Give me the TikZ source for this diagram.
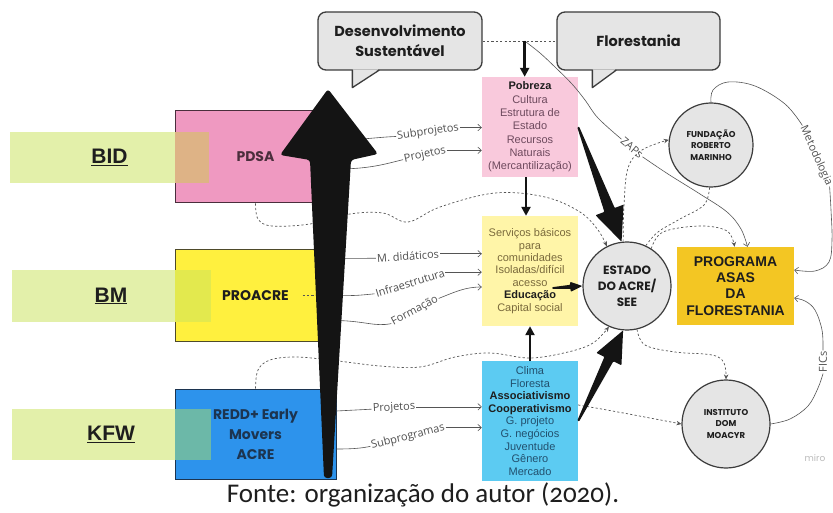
\documentclass[tikz,border=0pt]{standalone}
\usepackage{fontspec}
\setmainfont{Liberation Sans}
\newfontfamily\popf{Poppins}
\newfontfamily\opnf{Open Sans}
\newfontfamily\calf[Numbers=OldStyle]{Carlito}
\usetikzlibrary{arrows.meta,calc}
\definecolor{cgray}{HTML}{E5E5E5}
\definecolor{cdark}{HTML}{3C3C3C}
\definecolor{ctext}{HTML}{1E1E1E}
\definecolor{cpink}{HTML}{F9C9DC}
\definecolor{cpobtxt}{HTML}{6E4A5E}
\definecolor{cyel}{HTML}{FFF5A8}
\definecolor{cservtxt}{HTML}{7A6A3C}
\definecolor{cblue}{HTML}{5CCBF2}
\definecolor{cclimatxt}{HTML}{22506E}
\definecolor{cgold}{HTML}{F3C623}
\definecolor{cpdsa}{HTML}{EF99C1}
\definecolor{cpdsab}{HTML}{4A2E3C}
\definecolor{cproacre}{HTML}{FFF03E}
\definecolor{cproacreb}{HTML}{4E4A2A}
\definecolor{credd}{HTML}{2D93EC}
\definecolor{creddb}{HTML}{1C3450}
\definecolor{cgreen}{HTML}{E3F0AA}
\definecolor{covbid}{HTML}{DEB386}
\definecolor{covbm}{HTML}{E3E94E}
\definecolor{covkfw}{HTML}{6CB8A8}
\definecolor{cline}{HTML}{555555}
\definecolor{clbl}{HTML}{505050}
\definecolor{cmiro}{HTML}{BBBBBB}
\definecolor{cblk}{HTML}{141414}
% tapered fat arrow: tail, tip, head length, head half width, shaft half width, tail half width
\newcommand{\fatarr}[6]{%
  \coordinate (fah) at ($(#2)!#3!(#1)$);
  \fill[cblk, rounded corners=0.8pt] ($(#1)!#6!90:(#2)$) -- ($(fah)!#5!-90:(#1)$) -- ($(fah)!#4!-90:(#1)$) -- (#2) -- ($(fah)!#4!90:(#1)$) -- ($(fah)!#5!90:(#1)$) -- ($(#1)!#6!-90:(#2)$) -- cycle;}
\begin{document}
\begin{tikzpicture}[x=1pt,y=-1pt,
  box/.style={rectangle, inner sep=0pt, align=center},
  leftbox/.style={box, line width=1pt, minimum width=161pt, font=\popf\bfseries\fontsize{14}{20}\selectfont},
  greenbox/.style={box, fill=cgreen, minimum width=199pt, minimum height=51pt, font=\bfseries\fontsize{21}{24}\selectfont, text=ctext},
  callbox/.style={draw=cdark, fill=cgray, line width=1.3pt, rounded corners=8pt, minimum height=58pt, align=center, font=\popf\bfseries\fontsize{14.5}{20}\selectfont, text=ctext},
  circ/.style={circle, draw=cdark, fill=cgray, line width=1.2pt, align=center, text=ctext, inner sep=0pt},
  lbl/.style={font=\opnf\fontsize{11}{12}\selectfont, text=clbl, inner sep=1pt},
  conn/.style={draw=cline, line width=0.6pt},
  carr/.style={conn, -{Straight Barb[length=3.5pt,width=6.5pt]}},
  dconn/.style={draw=cline, line width=0.7pt, dash pattern=on 2.2pt off 2.2pt},
  darr/.style={dconn, -{Stealth[length=5pt,width=4.5pt]}},
  fatline/.style={draw=cblk, line width=2.4pt, -{Triangle[length=9pt,width=9pt]}}
]
\fill[white] (0,0) rectangle (833,513);
\useasboundingbox (0,0) rectangle (833,513);

% left programme boxes
\node[leftbox, fill=cpdsa, draw=cpdsab, minimum height=92pt, text=cpdsab] (pdsa) at (255.5,157) {PDSA};
\node[leftbox, fill=cproacre, draw=cproacreb, minimum height=91pt, text=ctext] (proacre) at (255.5,295.5) {PROACRE};
\node[leftbox, fill=credd, draw=creddb, minimum height=90pt, text=creddb] (redd) at (255.5,434) {REDD+ Early\\Movers\\ACRE};

% funders
\node[greenbox] (bid) at (109.5,157.5) {\underline{BID}};
\node[greenbox] (bm) at (111,296) {\underline{BM}};
\node[greenbox] (kfw) at (111,434.5) {\underline{KFW}};
\fill[covbid] (pdsa.west |- bid.north) rectangle (bid.south east);
\fill[covbm] (proacre.west |- bm.north) rectangle (bm.south east);
\fill[covkfw] (redd.west |- kfw.north) rectangle (kfw.south east);

% callouts
\node[callbox, minimum width=164pt] (dev) at (400,41) {Desenvolvimento\\Sustentável};
\node[callbox, minimum width=163pt] (flo) at (638.5,41) {Florestania};
\fill[cgray] ([xshift=35.6pt,yshift=1.2pt]dev.south west) -- ([xshift=35pt,yshift=-17pt]dev.south west) -- ([xshift=61pt,yshift=1.2pt]dev.south west) -- cycle;
\draw[cdark, line width=1.3pt, line join=round] ([xshift=35pt,yshift=0.6pt]dev.south west) -- ([xshift=35pt,yshift=-17pt]dev.south west) -- ([xshift=62pt,yshift=0.6pt]dev.south west);
\fill[cgray] ([xshift=36.6pt,yshift=1.2pt]flo.south west) -- ([xshift=36pt,yshift=-17pt]flo.south west) -- ([xshift=59pt,yshift=1.2pt]flo.south west) -- cycle;
\draw[cdark, line width=1.3pt, line join=round] ([xshift=36pt,yshift=0.6pt]flo.south west) -- ([xshift=36pt,yshift=-17pt]flo.south west) -- ([xshift=60pt,yshift=0.6pt]flo.south west);

% central boxes
\node[box, fill=cpink, minimum width=96pt, minimum height=100pt, text=cpobtxt, font=\fontsize{11}{13.3}\selectfont] (pob) at (530,127)
  {{\color{ctext}\bfseries Pobreza}\\Cultura\\Estrutura de\\Estado\\Recursos\\Naturais\\(Mercantilização)};
\node[box, fill=cyel, minimum width=96pt, minimum height=110pt, text=cservtxt, font=\fontsize{11}{12.4}\selectfont] (serv) at (530,271)
  {Serviços básicos\\para\\comunidades\\Isoladas/difícil\\acesso\\{\color{ctext}\bfseries Educação}\\Capital social};
\node[box, fill=cblue, minimum width=96pt, minimum height=120pt, text=cclimatxt, font=\fontsize{11}{12.6}\selectfont] (clima) at (530,421)
  {Clima\\Floresta\\{\color{ctext}\bfseries Associativismo}\\{\color{ctext}\bfseries Cooperativismo}\\G. projeto\\G. negócios\\Juventude\\Gênero\\Mercado};

% circles and programme
\node[circ, minimum size=88pt, font=\popf\bfseries\fontsize{12}{16}\selectfont] (estado) at (627,286) {ESTADO\\DO ACRE/\\SEE};
\node[circ, minimum size=84pt, font=\popf\bfseries\fontsize{8.5}{11.5}\selectfont] (fund) at (711,145) {FUNDAÇÃO\\ROBERTO\\MARINHO};
\node[circ, minimum size=88pt, font=\popf\bfseries\fontsize{8.5}{11.5}\selectfont] (inst) at (726,424) {INSTITUTO\\DOM\\MOACYR};
\node[box, fill=cgold, minimum width=117pt, minimum height=78pt, font=\bfseries\fontsize{14}{16.2}\selectfont, text=ctext] (prog) at (735.5,286) {PROGRAMA\\ASAS\\DA\\FLORESTANIA};

% dashed connectors
\coordinate (j) at ($(dev.east)!0.57!(flo.west)$);
\draw[dconn] (dev.east) -- (flo.west);
\draw[dconn] ([xshift=-34pt]proacre.east) -- (proacre.east);
\draw[darr] plot[smooth, tension=0.6] coordinates {(pdsa.south) (258,219) (272,226) (310,224) (350,214) (383,213) (408,222) (440,207) (495,193) (545,197) (580,212) (598,230) (estado.117)};
\draw[darr] plot[smooth, tension=0.6] coordinates {(redd.north) (258,370) (270,360) (295,357) (330,360) (380,366) (420,367) (455,357) (490,353) (530,358) (568,352) (593,343) (estado.246)};
\draw[darr] plot[smooth, tension=0.6] coordinates {(estado.283) (645,345) (675,352) (712,355) (724,363) (inst.north)};
\draw[darr] plot[smooth, tension=0.6] coordinates {([yshift=16pt]clima.east) (607,410) (650,418) (inst.west)};
\draw[darr] plot[smooth, tension=0.6] coordinates {(estado.95) (624,205) (628,168) (642,150) (fund.173)};
\draw[dconn] plot[smooth, tension=0.6] coordinates {(fund.268) (704,205) (680,219) (658,232) (estado.65)};
\draw[darr] plot[smooth, tension=0.6] coordinates {(estado.57) (663,232) (700,226) (727,231) ([xshift=-1pt]prog.north)};

% labelled thin connectors
\node[lbl, rotate=8] (lsub) at (428,132) {Subprojetos};
\draw[conn] ([yshift=17pt]pdsa.east) .. controls (360,140) and (380,137) .. (lsub.west);
\draw[carr] (lsub.east) -- (lsub.east -| pob.west);
\node[lbl, rotate=12] (lproj) at (425,155) {Projetos};
\draw[conn] ([yshift=-12pt]pdsa.east) .. controls (370,169) and (385,164) .. (lproj.west);
\draw[carr] (lproj.east) -- (lproj.east -| pob.west);
\node[lbl, rotate=4] (lmd) at (408,256) {M. didáticos};
\draw[conn] ([yshift=37pt]proacre.east) -- (lmd.west);
\draw[carr] (lmd.east) -- (lmd.east -| serv.west);
\node[lbl, rotate=17] (linf) at (410,283) {Infraestrutura};
\draw[conn] (proacre.east) .. controls (355,296) and (362,295) .. (linf.west);
\draw[carr] (linf.east) -- (linf.east -| serv.west);
\node[lbl, rotate=28] (lfor) at (415,311) {Formação};
\draw[conn] ([yshift=-25pt]proacre.east) .. controls (365,321) and (375,327) .. (lfor.west);
\draw[carr] (lfor.east) .. controls (455,292) and (465,287) .. ([yshift=-16pt]serv.west);
\node[lbl, rotate=3] (lkp) at (394,408) {Projetos};
\draw[conn] ([yshift=23pt]redd.east) -- (lkp.west);
\draw[carr] (lkp.east) -- (lkp.east -| clima.west);
\node[lbl, rotate=14] (lsp) at (408,437) {Subprogramas};
\draw[conn] ([yshift=-15pt]redd.east) .. controls (355,449) and (362,448) .. (lsp.west);
\draw[carr] (lsp.east) -- (lsp.east -| clima.west);

\node[lbl, rotate=-40] (lzap) at (632,148) {ZAPs};
\draw[conn] plot[smooth, tension=0.6] coordinates {(j) (540,53) (556,68) (572,84) (585,100) (598,118) (lzap.west)};
\draw[carr] plot[smooth, tension=0.6] coordinates {(lzap.east) (668,174) (700,194) (727,212) (741,229) ([xshift=12pt]prog.north)};
\node[lbl, rotate=-66] (lmet) at (816,156) {Metodologia};
\draw[conn] plot[smooth, tension=0.6] coordinates {(fund.north) (713,90) (728,82) (755,86) (785,104) (lmet.west)};
\draw[carr] plot[smooth, tension=0.6] coordinates {(lmet.east) (831,210) (832,240) (829,262) (815,271) ([yshift=16pt]prog.east)};
\node[lbl, rotate=90] (lfic) at (823,362) {FICs};
\draw[conn] plot[smooth, tension=0.6] coordinates {(inst.east) (790,419) (808,406) (818,388) (lfic.west)};
\draw[carr] plot[smooth, tension=0.6] coordinates {(lfic.east) (822,330) (815,310) (805,301) ([yshift=-12pt]prog.east)};

% thick black arrows
\draw[fatline] (j) -- (j |- pob.north);
\draw[fatline] ([xshift=-4pt]pob.south) -- ([xshift=-4pt]serv.north);
\draw[fatline] (clima.north) -- (serv.south);
\fatarr{pob.east}{estado.97}{34pt}{15pt}{5.5pt}{1pt}
\fatarr{clima.east}{estado.265}{32pt}{14pt}{5pt}{1pt}
\coordinate (acc) at ([xshift=-26pt,yshift=-17pt]serv.east);
\fatarr{acc}{estado.west}{12pt}{5pt}{2pt}{0.8pt}

% big upward arrow
\fill[cblk, rounded corners=3pt] (328,89) -- (378,154) -- (351,160) -- (332,478) -- (324,478) -- (310,160) -- (280,155) -- cycle;

% texts
\node[font=\popf\fontsize{9}{10}\selectfont, text=cmiro] (miro) at (815,458) {miro};
\node[font=\calf\fontsize{27}{29}\selectfont, text=ctext] (cap) at (423,495) {Fonte: organização do autor (2020).};
\end{tikzpicture}
\end{document}
